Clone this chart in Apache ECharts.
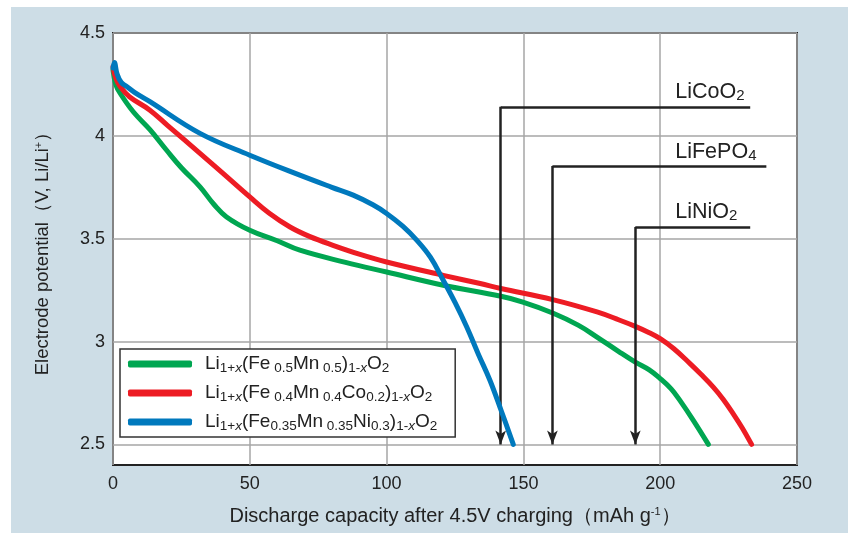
<!DOCTYPE html>
<html>
<head>
<meta charset="utf-8">
<script src="https://cdn.jsdelivr.net/npm/echarts@6/dist/echarts.min.js"></script>
<style>
  html, body { margin: 0; padding: 0; background: #fff; }
  #main { position: absolute; left: 11px; top: 7px; width: 837px; height: 526px; }
</style>
</head>
<body>
<div id="main"></div>
<script>
// discharge curves [capacity mAh/g, potential V]
var greenData = [[0,4.32],[1,4.25],[2.6,4.207],[7.4,4.117],[13.5,4.03],[19.6,3.93],[25,3.845],[31.8,3.752],[37,3.665],[41.5,3.606],[50,3.541],[60,3.49],[68.3,3.444],[85,3.385],[100,3.338],[120.7,3.274],[141.8,3.22],[149.8,3.192],[160.7,3.139],[170,3.08],[176.9,3.022],[185,2.95],[190.9,2.9],[196,2.862],[200,2.82],[204,2.77],[207.2,2.714],[212.1,2.617],[217.6,2.5]];
var redData = [[0,4.336],[1,4.28],[2.6,4.24],[6,4.19],[13.5,4.125],[20,4.05],[31.8,3.915],[40,3.82],[50,3.703],[57,3.625],[64.7,3.557],[72,3.51],[80.4,3.468],[90,3.425],[100,3.387],[120.7,3.322],[134.2,3.282],[141.8,3.258],[160.7,3.204],[176.9,3.144],[185,3.105],[190.9,3.074],[196,3.043],[200,3.014],[205,2.965],[210.9,2.893],[215,2.84],[219.4,2.779],[223,2.72],[226.7,2.649],[230,2.58],[233.4,2.5]];
var blueData = [[0,4.33],[0.5,4.357],[1.5,4.3],[3,4.26],[5,4.24],[8,4.21],[13.5,4.166],[31.8,4.012],[50,3.906],[68.3,3.809],[80,3.75],[87.8,3.712],[95,3.665],[100,3.623],[106,3.56],[111,3.493],[116,3.41],[120.7,3.298],[125,3.19],[129.3,3.071],[133.5,2.94],[137.8,2.811],[142,2.66],[146.3,2.5]];

var seriesNames = ['green', 'red', 'blue'];
var seriesColors = ['#00a651', '#ed1c24', '#0079bd'];
// legend formulas as rich text
var legendLabels = [
  'Li{s|1+}{si|x}(Fe{s| 0.5}Mn{s| 0.5}){s|1-}{si|x}O{s|2}',
  'Li{s|1+}{si|x}(Fe{s| 0.4}Mn{s| 0.4}Co{s|0.2}){s|1-}{si|x}O{s|2}',
  'Li{s|1+}{si|x}(Fe{s|0.35}Mn{s| 0.35}Ni{s|0.3}){s|1-}{si|x}O{s|2}'
];

// reference materials: arrow x, horizontal line y, line end x, label
var refX = [141.7, 160.6, 190.9];
var refY = [4.141, 3.854, 3.557];
var refEndX = [232.9, 238.8, 232.9];
var refLabelX = 205.5;
var refLabelY = [4.213, 3.922, 3.63];
var refLabels = ['LiCoO{s|2}', 'LiFePO{s|4}', 'LiNiO{s|2}'];

var yTicks = [2.5, 3, 3.5, 4, 4.5];

var FONT = '"Liberation Sans", Arial, sans-serif';
var subRich = {
  s: { fontSize: 13.5, lineHeight: 13, verticalAlign: 'bottom', fontFamily: FONT, color: '#222' },
  si: { fontSize: 13.5, lineHeight: 13, verticalAlign: 'bottom', fontStyle: 'italic', fontFamily: FONT, color: '#222' }
};

var chart = echarts.init(document.getElementById('main'));

var series = seriesNames.map(function (name, i) {
  return {
    name: name,
    type: 'line',
    data: [greenData, redData, blueData][i],
    smooth: 0.4,
    showSymbol: false,
    lineStyle: { color: seriesColors[i], width: 5, cap: 'round', join: 'round' },
    itemStyle: { color: seriesColors[i] },
    z: 3 + i
  };
});

var markLines = [];
var markPoints = [];
for (var i = 0; i < refX.length; i++) {
  markLines.push([
    { coord: [refX[i], refY[i]], symbol: 'none' },
    { coord: [refEndX[i], refY[i]], symbol: 'none' }
  ]);
  markLines.push([
    { coord: [refX[i], refY[i]], symbol: 'none' },
    { coord: [refX[i], 2.5], symbol: 'arrow', symbolSize: [8, 14] }
  ]);
  markPoints.push({
    coord: [refLabelX, refLabelY[i]],
    label: { formatter: refLabels[i] }
  });
}

series.push({
  name: 'ref',
  type: 'line',
  data: [],
  z: 10,
  markLine: {
    silent: true,
    animation: false,
    lineStyle: { color: '#222', width: 2.5, type: 'solid' },
    label: { show: false },
    data: markLines
  },
  markPoint: {
    silent: true,
    animation: false,
    symbol: 'circle',
    symbolSize: 0,
    label: {
      show: true,
      position: 'right',
      distance: 0,
      fontSize: 21.5,
      fontFamily: FONT,
      color: '#222',
      rich: {
        s: { fontSize: 15, lineHeight: 15, verticalAlign: 'bottom', fontFamily: FONT, color: '#222' }
      }
    },
    data: markPoints
  }
});

chart.setOption({
  backgroundColor: '#cddde6',
  animation: false,
  grid: {
    left: 102, top: 26, right: 51, bottom: 68,
    outerBoundsMode: 'none',
    show: true, backgroundColor: '#fff', borderColor: '#222', borderWidth: 2
  },
  legend: {
    data: seriesNames,
    orient: 'vertical',
    left: 109, top: 342,
    backgroundColor: '#fff',
    borderColor: '#333', borderWidth: 1.5, borderRadius: 0,
    padding: [4, 18, 4, 8],
    itemGap: 7,
    itemWidth: 64, itemHeight: 7,
    icon: 'roundRect',
    formatter: function (name) { return legendLabels[seriesNames.indexOf(name)]; },
    textStyle: {
      fontSize: 19, lineHeight: 22, fontFamily: FONT, color: '#222',
      padding: [0, 0, 0, 8],
      rich: subRich
    }
  },
  xAxis: {
    type: 'value',
    min: 0, max: 250, interval: 50,
    name: 'Discharge capacity after 4.5V charging（mAh g{sup|-1}）',
    nameLocation: 'middle',
    nameGap: 41,
    nameTextStyle: {
      fontSize: 20, fontFamily: FONT, color: '#222',
      rich: { sup: { fontSize: 11, lineHeight: 11, verticalAlign: 'top', fontFamily: FONT, color: '#222' } }
    },
    axisLine: { show: false },
    axisTick: { show: false },
    axisLabel: { fontSize: 18, fontFamily: FONT, color: '#222', margin: 10 },
    splitLine: { lineStyle: { color: '#a6a6a6', width: 1.5 } }
  },
  yAxis: {
    type: 'value',
    min: 2.4, max: 4.5,
    name: 'Electrode potential（V, Li/Li{sup|+}）',
    nameLocation: 'middle',
    nameGap: 61,
    nameTextStyle: {
      fontSize: 18.5, fontFamily: FONT, color: '#222',
      rich: { sup: { fontSize: 11, lineHeight: 11, verticalAlign: 'top', fontFamily: FONT, color: '#222' } }
    },
    axisLine: { show: false },
    axisTick: { show: false, customValues: yTicks },
    axisLabel: { fontSize: 18, fontFamily: FONT, color: '#222', margin: 8, customValues: yTicks },
    splitLine: { lineStyle: { color: '#a6a6a6', width: 1.5 } }
  },
  series: series
});
</script>
</body>
</html>
